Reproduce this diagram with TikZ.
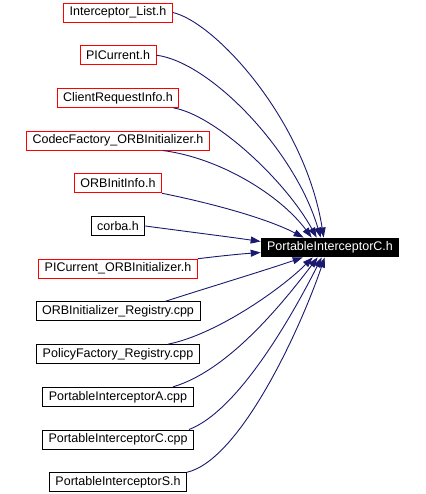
\documentclass[tikz,border=0pt]{standalone}
\usepackage{fontspec}
\setmainfont{Liberation Sans}
\usepackage{xcolor}
\usepackage{tikz}
\usetikzlibrary{arrows.meta}

\definecolor{edgeblue}{HTML}{191970}

\begin{document}
\begin{tikzpicture}[x=1pt, y=-1pt, node distance=42.7pt]
\tikzstyle{file} = [rectangle, minimum height=19pt, inner xsep=6pt, inner ysep=0pt, text centered, font=\fontsize{12.5}{14}\selectfont, line width=0.9pt]
\tikzstyle{header} = [file, draw=red]
\tikzstyle{source} = [file, draw=black]
\tikzstyle{mainfile} = [file, fill=black, text=white]
\tikzstyle{dep} = [-{Triangle[length=10pt, width=7pt]}, draw=edgeblue, line width=0.9pt]

\useasboundingbox (0,0) rectangle (425,494);

\node (il)     [header] at (118,12.5) {Interceptor\_List.h};
\node (pcur)   [header, below of=il] {PICurrent.h};
\node (cri)    [header, below of=pcur] {ClientRequestInfo.h};
\node (codec)  [header, below of=cri] {CodecFactory\_ORBInitializer.h};
\node (oii)    [header, below of=codec] {ORBInitInfo.h};
\node (corba)  [source, below of=oii] {corba.h};
\node (pcorbi) [header, below of=corba] {PICurrent\_ORBInitializer.h};
\node (oireg)  [source, below of=pcorbi] {ORBInitializer\_Registry.cpp};
\node (pfreg)  [source, below of=oireg] {PolicyFactory\_Registry.cpp};
\node (pia)    [source, below of=pfreg] {PortableInterceptorA.cpp};
\node (picpp)  [source, below of=pia] {PortableInterceptorC.cpp};
\node (pis)    [source, below of=picpp] {PortableInterceptorS.h};

\node (pich)   [mainfile] at (330,247.5) {PortableInterceptorC.h};

% from above
\draw [dep] (il.east) .. controls (215,22) and (305,120) .. ([xshift=63pt]pich.north west);
\draw [dep] (pcur.east) .. controls (210,62) and (295,150) .. ([xshift=60pt]pich.north west);
\draw [dep] ([xshift=-6pt]cri.south east) .. controls (215,115) and (285,180) .. ([xshift=56pt]pich.north west);
\draw [dep] ([xshift=45pt]codec.south) .. controls (220,158) and (280,195) .. ([xshift=51pt]pich.north west);
\draw [dep] (oii.south east) .. controls (220,205) and (270,220) .. ([xshift=43pt]pich.north west);

% from the side
\draw [dep] (corba.east) .. controls (190,232) and (230,237) .. ([yshift=6pt]pich.west);
\draw [dep] (pcorbi.north east) .. controls (220,256) and (240,254) .. ([yshift=-5pt]pich.west);

% from below
\draw [dep] ([xshift=47pt]oireg.north) .. controls (200,290) and (260,272) .. ([xshift=42pt]pich.south west);
\draw [dep] ([xshift=50pt]pfreg.north) .. controls (215,335) and (280,290) .. ([xshift=52pt]pich.south west);
\draw [dep] ([xshift=55pt]pia.north) .. controls (230,370) and (285,300) .. ([xshift=57pt]pich.south west);
\draw [dep] ([xshift=-5pt]picpp.north east) .. controls (240,410) and (295,310) .. ([xshift=61pt]pich.south west);
\draw [dep] (pis.north east) .. controls (240,460) and (300,330) .. ([xshift=64pt]pich.south west);

\end{tikzpicture}
\end{document}
